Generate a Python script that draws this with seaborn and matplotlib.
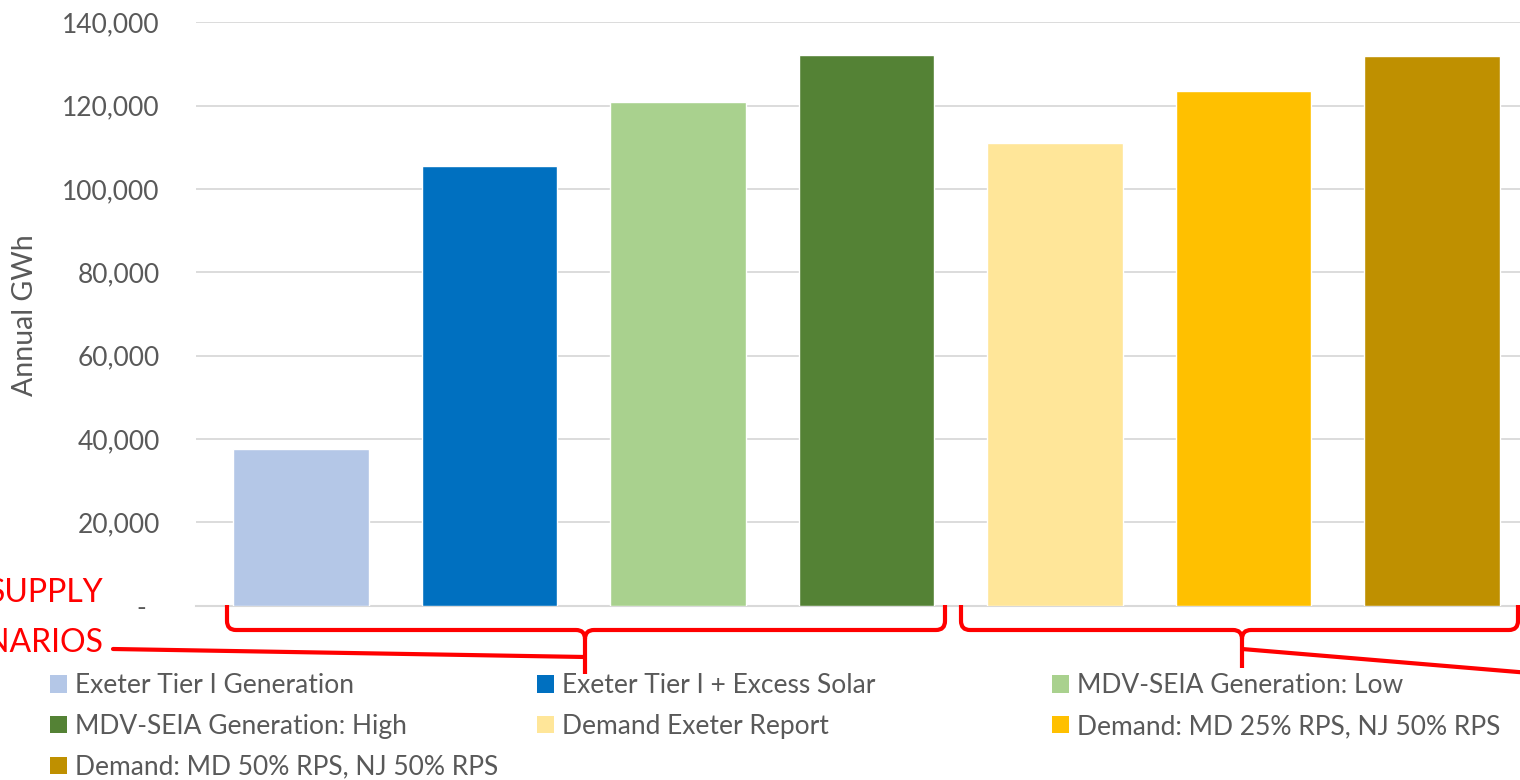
import matplotlib
matplotlib.use("Agg")
import matplotlib.pyplot as plt
import seaborn as sns
import pandas as pd
from matplotlib.path import Path
from matplotlib.patches import PathPatch, Patch
from matplotlib.lines import Line2D
from matplotlib.ticker import FuncFormatter

# Data
scenarios = [
    "Exeter Tier I Generation",
    "Exeter Tier I + Excess Solar",
    "MDV-SEIA Generation: Low",
    "MDV-SEIA Generation: High",
    "Demand Exeter Report",
    "Demand: MD 25% RPS, NJ 50% RPS",
    "Demand: MD 50% RPS, NJ 50% RPS",
]
annual_gwh = [37600, 105500, 120900, 132200, 111000, 123500, 132000]
bar_colors = ["#B4C7E7", "#0070C0", "#A9D18E", "#548235", "#FFE699", "#FFC000", "#BF9000"]
y_ticks = [0, 20000, 40000, 60000, 80000, 100000, 120000, 140000]

W, H = 1520, 780
GRAY = "#595959"
RED = "#FF0000"

sns.set_theme(style="white")
plt.rcParams["font.family"] = ["Lato", "DejaVu Sans"]

df = pd.DataFrame({"scenario": scenarios, "gwh": annual_gwh})

fig = plt.figure(figsize=(W / 100, H / 100), dpi=100)
ax = fig.add_axes([196 / W, 1 - 605.7 / H, 1 - 196 / W, (605.7 - 22.4) / H])

sns.barplot(data=df, x="scenario", y="gwh", hue="scenario", palette=bar_colors,
            dodge=False, legend=False, width=0.72, saturation=1, ax=ax, zorder=3)

ax.set_xlim(-0.557, 6.467)
ax.set_ylim(0, 140000)
ax.set_yticks(y_ticks)
ax.yaxis.set_major_formatter(FuncFormatter(lambda v, p: "-  " if v == 0 else f"{v:,.0f}"))
ax.tick_params(axis="y", length=0, pad=26, labelsize=19, labelcolor=GRAY)
ax.set_xticks([])
ax.set_xlabel("")
ax.set_ylabel("Annual GWh", fontsize=20.5, color=GRAY)
ax.yaxis.set_label_coords(38 / W, 1 - 315 / H, transform=fig.transFigure)
ax.grid(axis="y", color="#D9D9D9", linewidth=1.3, zorder=0)
for side in ["left", "right", "top"]:
    ax.spines[side].set_visible(False)
ax.spines["bottom"].set_color("#D9D9D9")
ax.spines["bottom"].set_linewidth(1.5)


def fp(px, py):
    return (px / W, 1 - py / H)


def bracket(x0, x1, xm, y_tip, y_top=605, y_h=630, r=9):
    verts = [fp(x0, y_top), fp(x0, y_h - r), fp(x0, y_h), fp(x0 + r, y_h),
             fp(xm - r, y_h), fp(xm, y_h), fp(xm, y_h + r), fp(xm, y_tip),
             fp(xm, y_h + r), fp(xm, y_h), fp(xm + r, y_h),
             fp(x1 - r, y_h), fp(x1, y_h), fp(x1, y_h - r), fp(x1, y_top)]
    codes = [Path.MOVETO, Path.LINETO, Path.CURVE3, Path.CURVE3,
             Path.LINETO, Path.CURVE3, Path.CURVE3, Path.LINETO,
             Path.MOVETO, Path.CURVE3, Path.CURVE3,
             Path.LINETO, Path.CURVE3, Path.CURVE3, Path.LINETO]
    fig.patches.append(PathPatch(Path(verts, codes), transform=fig.transFigure,
                                 fill=False, edgecolor=RED, linewidth=3,
                                 capstyle="butt", joinstyle="round"))


# supply / demand brackets and callout lines
bracket(227, 945, 585, 674)
bracket(961, 1518, 1242, 668)
fig.lines.append(Line2D([113 / W, 585 / W], [1 - 649 / H, 1 - 657 / H],
                        transform=fig.transFigure, color=RED, linewidth=3))
fig.lines.append(Line2D([1242 / W, 1530 / W], [1 - 649 / H, 1 - 673 / H],
                        transform=fig.transFigure, color=RED, linewidth=3))
fig.text(104 / W, 1 - 618 / H, "SUPPLY\nSCENARIOS", color=RED, fontsize=23,
         ha="right", va="center", multialignment="right", linespacing=1.85)

# legend, three columns laid out row by row
handles = [Patch(facecolor=c, edgecolor="none") for c in bar_colors]
col_x = [50, 537, 1052]
for c in range(3):
    idx = list(range(c, len(scenarios), 3))
    fig.legend([handles[i] for i in idx], [scenarios[i] for i in idx],
               loc="upper left", bbox_to_anchor=fp(col_x[c], 673), frameon=False,
               fontsize=19, labelcolor=GRAY, handlelength=0.66, handleheight=0.66,
               handletextpad=0.3, labelspacing=0.6, borderpad=0, borderaxespad=0)

fig.savefig("out.png", dpi=100)
